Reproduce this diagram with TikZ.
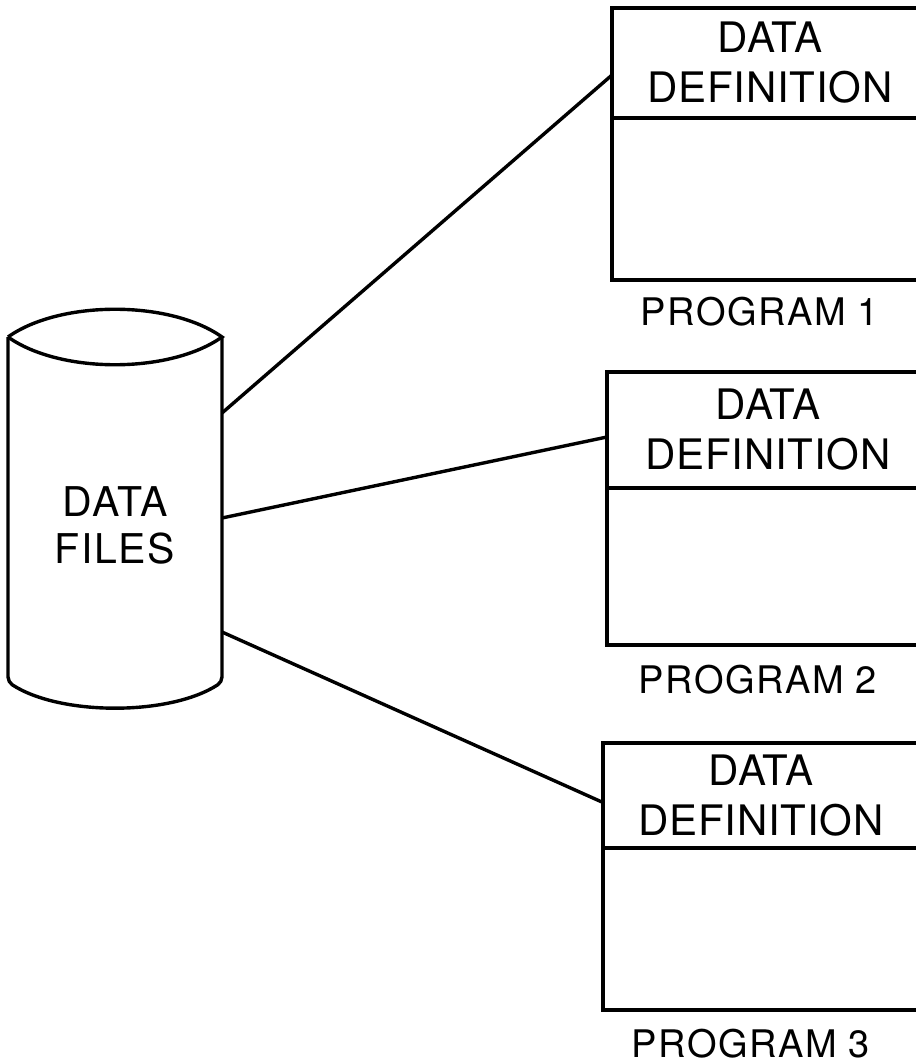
\documentclass[tikz,border=0pt]{standalone}
\usepackage{fontspec}
\setmainfont{TeX Gyre Heros}
\usetikzlibrary{positioning}
\newcommand\deffont{\fontsize{42}{50}\selectfont\addfontfeatures{LetterSpace=2}}
\newcommand\capfont{\fontsize{38}{46}\selectfont\addfontfeatures{LetterSpace=4}}
\newcommand\drumfont{\fontsize{41}{47}\selectfont\addfontfeatures{LetterSpace=4}}
\tikzset{
  wire/.style={line width=3.4pt},
  defbox/.style={draw, line width=3.4pt, outer sep=0pt, inner sep=0pt,
    minimum width=316pt, minimum height=110pt, align=center, font=\deffont, anchor=north west},
  bodybox/.style={draw, line width=3.4pt, outer sep=0pt, minimum width=316pt, minimum height=162pt},
  caption/.style={inner sep=0pt, font=\capfont, xshift=-10pt}
}
\begin{document}
\begin{tikzpicture}[x=1pt, y=-1pt]
\useasboundingbox (0,0) rectangle (915,1064);
% data files drum
\node[minimum width=214pt, minimum height=345pt, inner sep=0pt, outer sep=0pt] (drum) at (115,509.5) {};
\draw[wire] (8,337) .. controls (60,300) and (170,300) .. (222,337)
  .. controls (170,374) and (60,374) .. (8,337);
\draw[wire, rounded corners=5pt] (8,337) -- (8,682) .. controls (60,716) and (170,716) .. (222,682) -- (222,337);
\node[align=center, font=\drumfont, inner sep=0pt] (files) at (115,525) {DATA\\FILES};
% programs
\node[defbox] (def1) at (612,8) {DATA\\DEFINITION};
\node[bodybox, below=0pt of def1] (body1) {};
\node[caption, below=17pt of body1] (prog1) {PROGRAM 1};
\node[defbox, minimum width=322pt, minimum height=116pt] (def2) at (607,372) {DATA\\DEFINITION};
\node[bodybox, below=0pt of def2, minimum width=322pt, minimum height=157pt] (body2) {};
\node[caption, below=20pt of body2] (prog2) {PROGRAM 2};
\node[defbox, minimum height=105pt] (def3) at (603,743) {DATA\\DEFINITION};
\node[bodybox, below=0pt of def3] (body3) {};
\node[caption, below=19pt of body3] (prog3) {PROGRAM 3};
% links
\draw[wire] ([yshift=96.5pt]drum.east) -- ([yshift=-12pt]def1.west);
\draw[wire] ([yshift=-8.5pt]drum.east) -- ([yshift=-7pt]def2.west);
\draw[wire] ([yshift=-122.5pt]drum.east) -- ([yshift=-7pt]def3.west);
\end{tikzpicture}
\end{document}
